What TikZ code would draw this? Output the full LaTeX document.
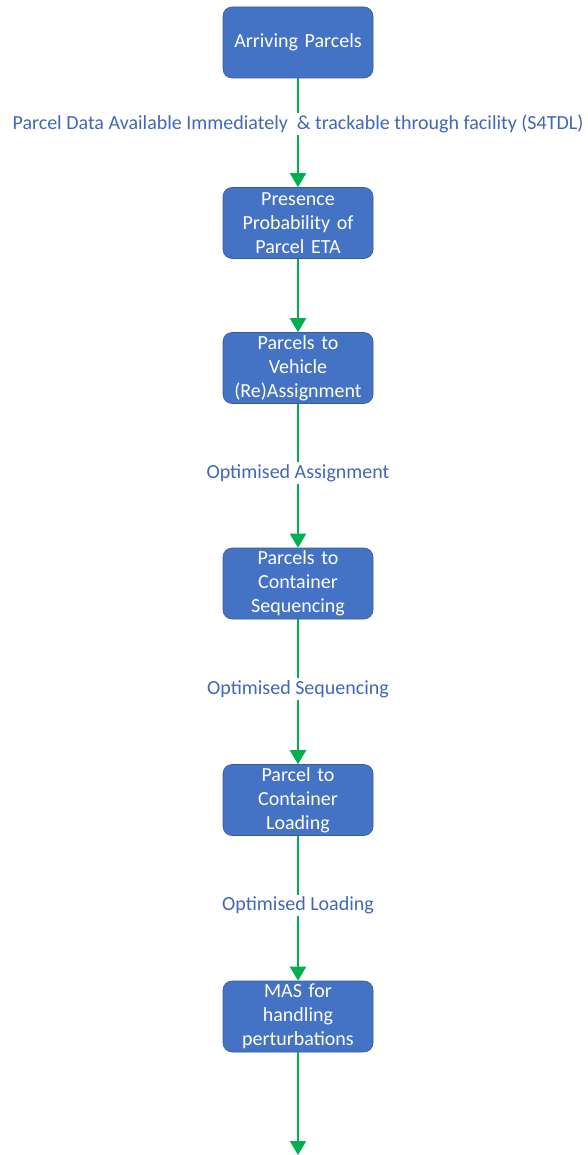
\documentclass[tikz,border=0pt]{standalone}
\usepackage{fontspec}
\setmainfont{Carlito}
\usetikzlibrary{arrows.meta}
\definecolor{boxblue}{HTML}{4472C4}
\definecolor{labelblue}{HTML}{4068B8}
\definecolor{flowgreen}{HTML}{00B050}
\begin{document}
\begin{tikzpicture}[x=1pt,y=-1pt,
  stepbox/.style={draw=boxblue!80!black, line width=0.6pt, fill=boxblue, rounded corners=9pt,
    minimum width=150pt, minimum height=71pt, text width=146pt, align=center,
    text=white, font=\fontsize{20}{24}\selectfont, inner sep=0pt},
  flow/.style={draw=flowgreen, line width=2pt, -{Triangle[length=14pt,width=16pt]}},
  flowlabel/.style={fill=white, text=labelblue, font=\fontsize{20}{22}\selectfont, inner sep=2pt}]
\useasboundingbox (0,0) rectangle (587,1155);
\node[stepbox] (a) at (298,42.5) {Arriving Parcels};
\node[stepbox] (b) at (298,223) {Presence\\Probability of\\Parcel ETA};
\node[stepbox] (c) at (298,368) {Parcels to\\Vehicle\\(Re)Assignment};
\node[stepbox] (d) at (298,583.5) {Parcels to\\Container\\Sequencing};
\node[stepbox] (e) at (298,800) {Parcel to\\Container\\Loading};
\node[stepbox] (f) at (298,1016.5) {MAS for\\handling\\perturbations};
\coordinate (end) at (298,1155);
\draw[flow] (a) -- node[flowlabel, pos=0.42] {Parcel Data Available Immediately \ \& trackable through facility (S4TDL)} (b);
\draw[flow] (b) -- (c);
\draw[flow] (c) -- node[flowlabel, pos=0.48] {Optimised Assignment} (d);
\draw[flow] (d) -- node[flowlabel, pos=0.48] {Optimised Sequencing} (e);
\draw[flow] (e) -- node[flowlabel, pos=0.48] {Optimised Loading} (f);
\draw[flow] (f) -- (end);
\end{tikzpicture}
\end{document}
